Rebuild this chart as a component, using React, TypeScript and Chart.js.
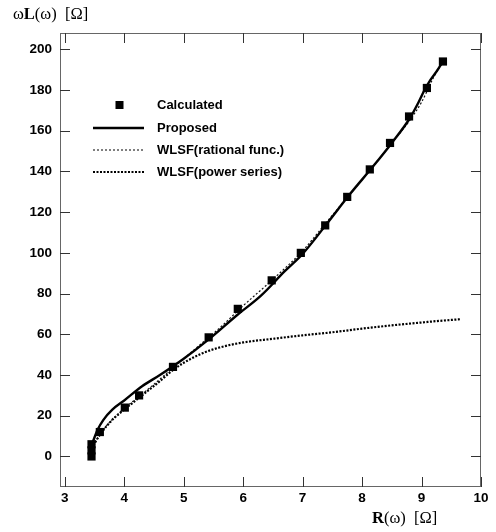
import React, { useEffect, useRef } from "react";
import { Chart, registerables } from "chart.js";

Chart.register(...registerables);

const xTicks = [3, 4, 5, 6, 7, 8, 9, 10];
const yTicks = [0, 20, 40, 60, 80, 100, 120, 140, 160, 180, 200];

const calcX = [3.45, 3.45, 3.45, 3.59, 4.01, 4.25, 4.82, 5.42, 5.91, 6.48, 6.97, 7.38, 7.75, 8.13, 8.47, 8.79, 9.09, 9.36];
const calcY = [0, 3, 6, 12, 24, 30, 44, 58.5, 72.5, 86.5, 100, 113.5, 127.5, 141, 154, 167, 181, 194];

const propX = [3.47, 3.55, 3.65, 3.8, 4.0, 4.3, 4.6, 5.0, 5.4, 5.9, 6.3, 6.7, 7.0, 7.4, 7.8, 8.2, 8.5, 8.8, 8.95, 9.05, 9.15, 9.25, 9.38];
const propY = [7, 13, 18, 23, 27.5, 34.5, 40, 48, 57, 69.5, 79, 91, 99.5, 114, 129, 143, 154, 166, 174, 180, 185, 189, 195];

const ratX = [3.45, 3.55, 3.7, 3.9, 4.1, 4.4, 4.8, 5.2, 5.6, 6.0, 6.5, 7.0, 7.4, 7.8, 8.2, 8.5, 8.8, 9.0, 9.2, 9.38];
const ratY = [3, 9, 15, 21, 26, 33, 43, 53, 63, 74, 87, 101, 115, 129, 143, 154, 165, 174, 186, 195];

const powX = [3.45, 3.6, 3.8, 4.0, 4.3, 4.6, 4.8, 5.0, 5.3, 5.6, 6.0, 6.5, 7.0, 7.5, 8.0, 8.5, 9.0, 9.3, 9.65];
const powY = [4, 11, 18, 23, 30, 37, 42, 46, 50.5, 53.5, 56, 57.8, 59.5, 61, 62.8, 64.4, 65.8, 66.6, 67.4];

const seriesLabels = ["Calculated", "Proposed", "WLSF(rational func.)", "WLSF(power series)"];

const zip = (xs: number[], ys: number[]) => xs.map((x, i) => ({ x, y: ys[i] }));

const SANS = "'Liberation Sans', Arial, sans-serif";
const LEGEND_FONT = `bold 13px ${SANS}`;

const framePlugin = {
  id: "frameTicks",
  afterDraw(chart: any) {
    const { ctx, chartArea } = chart;
    const { left, right, top, bottom } = chartArea;
    const xs = chart.scales.x;
    const ys = chart.scales.y;
    ctx.save();
    ctx.strokeStyle = "#666";
    ctx.lineWidth = 1;
    ctx.strokeRect(left + 0.5, top + 0.5, right - left - 1, bottom - top - 1);
    ctx.strokeStyle = "#333";
    ctx.beginPath();
    xs.ticks.forEach((t: any) => {
      const px = Math.round(xs.getPixelForValue(t.value)) + 0.5;
      ctx.moveTo(px, bottom);
      ctx.lineTo(px, bottom - 10);
      ctx.moveTo(px, top);
      ctx.lineTo(px, top + 10);
    });
    ys.ticks.forEach((t: any) => {
      const py = Math.round(ys.getPixelForValue(t.value)) + 0.5;
      ctx.moveTo(left, py);
      ctx.lineTo(left + 10, py);
      ctx.moveTo(right, py);
      ctx.lineTo(right - 10, py);
    });
    ctx.stroke();

    // legend
    const ds = chart.data.datasets;
    const lx = 93, lw = 51, tx = 157;
    const rows = [105, 128, 150, 172];
    ctx.font = LEGEND_FONT;
    ctx.fillStyle = "#000";
    ctx.textBaseline = "middle";
    ds.forEach((d: any, i: number) => {
      const y = rows[i];
      if (i === 0) {
        ctx.fillRect(lx + lw / 2 - 3, y - 4, 8, 8);
      } else {
        ctx.save();
        ctx.strokeStyle = "#000";
        ctx.lineWidth = d.borderWidth;
        ctx.setLineDash(d.borderDash || []);
        ctx.beginPath();
        ctx.moveTo(lx, y);
        ctx.lineTo(lx + lw, y);
        ctx.stroke();
        ctx.restore();
      }
      ctx.fillText(d.label, tx, y);
    });

    // axis titles
    const drawParts = (parts: [string, string][], x: number, y: number) => {
      let cx = x;
      parts.forEach(([txt, f]) => {
        ctx.font = f;
        ctx.fillText(txt, cx, y);
        cx += ctx.measureText(txt).width;
      });
    };
    const serif = "16.5px 'Liberation Serif', 'DejaVu Serif', serif";
    const serifB = "bold 16.5px 'Liberation Serif', 'DejaVu Serif', serif";
    ctx.textBaseline = "middle";
    drawParts([["ω", serif], ["L", serifB], ["(ω)  [Ω]", serif]], 13, 15);
    drawParts([["R", serifB], ["(ω)  [Ω]", serif]], 372, 519);
    ctx.restore();
  },
};

export default function App() {
  const ref = useRef<HTMLCanvasElement | null>(null);
  useEffect(() => {
    if (!ref.current) return;
    const chart = new Chart(ref.current, {
      type: "scatter",
      data: {
        datasets: [
          {
            label: seriesLabels[0],
            data: zip(calcX, calcY),
            showLine: false,
            pointStyle: "rect",
            pointRadius: 5.8,
            backgroundColor: "#000",
            borderColor: "#000",
            borderWidth: 0,
            order: 0,
          },
          {
            label: seriesLabels[1],
            data: zip(propX, propY),
            showLine: true,
            pointRadius: 0,
            borderColor: "#000",
            borderWidth: 2.4,
            cubicInterpolationMode: "monotone",
            order: 1,
          },
          {
            label: seriesLabels[2],
            data: zip(ratX, ratY),
            showLine: true,
            pointRadius: 0,
            borderColor: "#111",
            borderWidth: 1.2,
            borderDash: [2, 2],
            cubicInterpolationMode: "monotone",
            order: 2,
          },
          {
            label: seriesLabels[3],
            data: zip(powX, powY),
            showLine: true,
            pointRadius: 0,
            borderColor: "#000",
            borderWidth: 2.2,
            borderDash: [2, 1.5],
            cubicInterpolationMode: "monotone",
            order: 3,
          },
        ],
      },
      options: {
        animation: false,
        responsive: false,
        layout: { padding: { top: 33, right: 15, left: 0, bottom: 0 } },
        plugins: { legend: { display: false }, tooltip: { enabled: false }, title: { display: false } },
        scales: {
          x: {
            type: "linear",
            min: 2.92,
            max: 10,
            afterBuildTicks: (s: any) => {
              s.ticks = xTicks.map((v) => ({ value: v }));
            },
            afterFit: (s: any) => {
              s.height = 45;
            },
            grid: { display: false, drawTicks: false },
            border: { display: false },
            ticks: { color: "#000", font: { family: SANS, size: 13.5, weight: "bold" }, padding: 3, maxRotation: 0 },
          },
          y: {
            type: "linear",
            min: -15,
            max: 208,
            afterBuildTicks: (s: any) => {
              s.ticks = yTicks.map((v) => ({ value: v }));
            },
            afterFit: (s: any) => {
              s.width = 60;
            },
            grid: { display: false, drawTicks: false },
            border: { display: false },
            ticks: { color: "#000", font: { family: SANS, size: 13.5, weight: "bold" }, padding: 8 },
          },
        },
      },
      plugins: [framePlugin],
    } as any);
    return () => chart.destroy();
  }, []);
  return (
    <div style={{ position: "fixed", left: 0, top: 0, width: 496, height: 532, background: "#fff" }}>
      <canvas ref={ref} width={496} height={532} style={{ display: "block" }} />
    </div>
  );
}
